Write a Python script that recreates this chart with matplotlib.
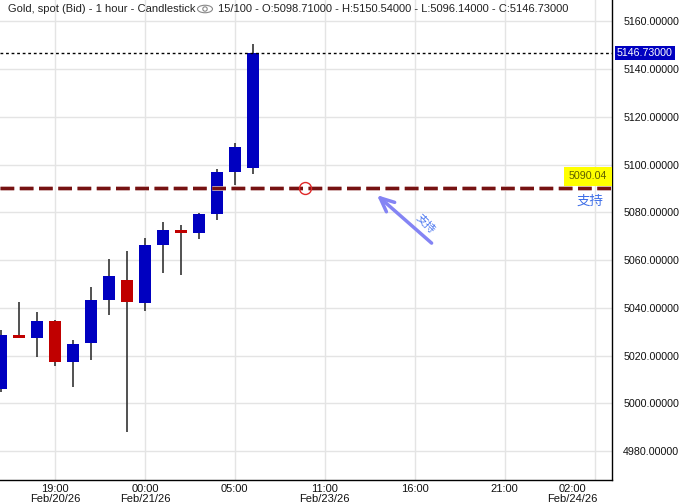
import matplotlib
matplotlib.use("Agg")
import matplotlib.pyplot as plt
import matplotlib.patheffects as pe
from matplotlib.patches import Rectangle, Ellipse, Circle
from matplotlib.transforms import blended_transform_factory

# === DATA (1 hour candles, gold spot) ===
opens  = [5006.1, 5028.6, 5027.5, 5034.4, 5017.3, 5025.4, 5043.4, 5051.6,
          5042.1, 5066.4, 5072.6, 5071.5, 5079.4, 5097.0, 5098.71]
highs  = [5030.7, 5042.4, 5038.2, 5034.9, 5026.5, 5048.6, 5060.3, 5063.8,
          5069.2, 5075.9, 5074.7, 5079.5, 5098.1, 5109.0, 5150.54]
lows   = [5004.9, 5027.5, 5019.5, 5015.8, 5007.0, 5018.3, 5037.1, 4988.1,
          5038.8, 5054.7, 5053.9, 5068.9, 5076.9, 5091.4, 5096.14]
closes = [5028.6, 5027.5, 5034.4, 5017.3, 5024.8, 5043.3, 5053.3, 5042.6,
          5066.3, 5072.6, 5071.5, 5079.3, 5096.9, 5107.4, 5146.73]

tick_pos = [3, 8, 13, 18, 23, 28, 33]
tick_labels = ["19:00\nFeb/20/26", "00:00\nFeb/21/26", "05:00", "11:00\nFeb/23/26",
               "16:00", "21:00", "02:00\nFeb/24/26"]
y_ticks = [4980, 5000, 5020, 5040, 5060, 5080, 5100, 5120, 5140, 5160]

support_level = 5090.04
last_close = 5146.73
circle_pos = 16.9
arrow_from = (23.94, 5067.1)
arrow_to = (20.9, 5087.2)

title_left = "Gold, spot (Bid) - 1 hour - Candlestick"
title_right = "15/100 - O:5098.71000 - H:5150.54000 - L:5096.14000 - C:5146.73000"
support_text = "支持"

plt.rcParams['font.family'] = ['Liberation Sans', 'Noto Sans CJK SC', 'DejaVu Sans']

BLUE = '#0000c0'
RED = '#c00000'

fig = plt.figure(figsize=(6.83, 5.04), dpi=100)
ax = fig.add_axes([0, 24 / 504, 612 / 683, 480 / 504])
ax.set_xlim(-0.056, 33.97)
ax.set_ylim(4967.9, 5168.9)

# ---- grid + axes ----
ax.set_xticks(tick_pos)
ax.set_xticklabels([])
ax.set_yticks(y_ticks)
ax.set_yticklabels([f"{v:.5f}" for v in y_ticks])
ax.yaxis.tick_right()
ax.tick_params(axis='y', length=0, pad=8, labelsize=7.7, labelcolor='#111111')
ax.tick_params(axis='x', length=0)
ax.grid(True, color='#e4e4e4', lw=1.0, zorder=0)
ax.set_axisbelow(True)
for side in ['top', 'left']:
    ax.spines[side].set_visible(False)
for side in ['right', 'bottom']:
    ax.spines[side].set_color('black')
    ax.spines[side].set_linewidth(1.0)

# x labels drawn as annotations (last one pushed left like the original)
for pos, lab in zip(tick_pos, tick_labels):
    last = pos == tick_pos[-1]
    ax.annotate(lab, xy=(pos, 0), xycoords=('data', 'axes fraction'),
                xytext=(3 if last else 0, -4), textcoords='offset pixels',
                ha='right' if last else 'center', va='top', multialignment='center',
                fontsize=8, linespacing=0.95, color='#111111',
                family=['Liberation Sans Narrow', 'Liberation Sans'],
                annotation_clip=False)

# ---- candles ----
for i, (o, h, l, c) in enumerate(zip(opens, highs, lows, closes)):
    color = BLUE if c >= o else RED
    ax.vlines(i, l, h, color='#333333', lw=1.2, zorder=2)
    body = max(abs(c - o), 1.2)
    ax.add_patch(Rectangle((i - 0.333, min(o, c)), 0.667, body,
                           facecolor=color, edgecolor='none', zorder=3))

# ---- last price line + box ----
ax.axhline(last_close, color='black', lw=1.0, dashes=(2, 2), zorder=4)
tr = blended_transform_factory(ax.transAxes, ax.transData)
ax.text(1 + 5 / 612, last_close, f"{last_close:.5f}", transform=tr,
        ha='left', va='center', color='white', fontsize=7.7, clip_on=False,
        bbox=dict(boxstyle='square,pad=0.2', fc=BLUE, ec='none'))

# ---- support line ----
ax.axhline(support_level, color='#761212', lw=2.2, dashes=(4.5, 1.8), zorder=4,
           path_effects=[pe.Stroke(linewidth=3.4, foreground='#cfa8a8'), pe.Normal()])
ax.plot(circle_pos, support_level, 'o', ms=8.6, mfc='none', mec='#e02828', mew=1.0, zorder=5)
ax.text(587.5 / 612, 5095.0, f"{support_level:.2f}", transform=tr,
        ha='center', va='center', color='#5c5c00', fontsize=7.7, zorder=6,
        bbox=dict(boxstyle='square,pad=0.45', fc='#ffff00', ec='none'))
ax.text(604 / 612, 5084.7, support_text, transform=tr, ha='right', va='center',
        color='#3f6fe8', fontsize=9.7, family=['Noto Sans CJK SC', 'DejaVu Sans'], zorder=6)

# ---- arrow annotation ----
ax.annotate('', xy=arrow_to, xytext=arrow_from,
            arrowprops=dict(arrowstyle='->,head_length=1.0,head_width=0.45',
                            color='#8484f4', lw=2.5, shrinkA=0, shrinkB=0), zorder=6)
ax.text(23.6, 5075.1, support_text, rotation=-45, ha='center', va='center',
        color='#4f7af0', fontsize=8, family=['Noto Sans CJK SC', 'DejaVu Sans'], zorder=6)

# ---- title line ----
fig.text(8 / 683, 1 - 9 / 504, title_left, ha='left', va='center', fontsize=8, color='#222222')
fig.text(218 / 683, 1 - 9 / 504, title_right, ha='left', va='center', fontsize=8, color='#222222')
eye = Ellipse((2.05, 4.95), 0.15, 0.075, transform=fig.dpi_scale_trans,
              fill=False, ec='#888888', lw=0.8)
pupil = Circle((2.05, 4.95), 0.022, transform=fig.dpi_scale_trans,
               fill=False, ec='#888888', lw=0.8)
fig.add_artist(eye)
fig.add_artist(pupil)

fig.savefig('out.png', dpi=100)
plt.close(fig)
